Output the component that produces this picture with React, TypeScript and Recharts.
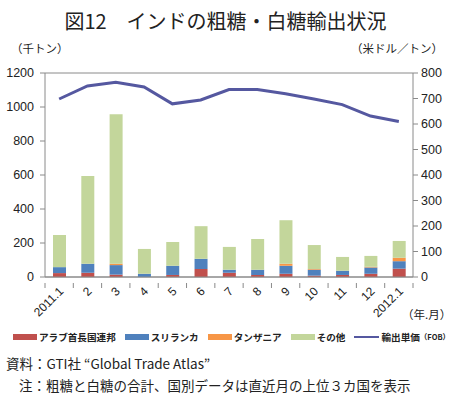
import { ComposedChart, Bar, Line, XAxis, YAxis, CartesianGrid } from 'recharts'

const months = ['2011.1', '2', '3', '4', '5', '6', '7', '8', '9', '10', '11', '12', '2012.1']
const uae = [23, 25, 14, 0, 12, 47, 25, 12, 19, 8, 12, 19, 49]
const sriLanka = [35, 53, 56, 19, 54, 60, 18, 31, 47, 35, 25, 37, 44]
const tanzania = [0, 0, 8, 0, 0, 0, 0, 0, 12, 4, 0, 4, 20]
const others = [189, 516, 879, 146, 140, 192, 134, 180, 256, 141, 81, 64, 99]
const unitPrice = [698, 749, 764, 745, 679, 694, 735, 735, 719, 698, 676, 631, 610]

const leftTicks = [0, 200, 400, 600, 800, 1000, 1200]
const rightTicks = [0, 100, 200, 300, 400, 500, 600, 700, 800]

const series = [
  { key: 'uae', name: 'アラブ首長国連邦', color: '#c0504d' },
  { key: 'sriLanka', name: 'スリランカ', color: '#4f81bd' },
  { key: 'tanzania', name: 'タンザニア', color: '#f79646' },
  { key: 'others', name: 'その他', color: '#c3d69b' },
]
const lineColor = '#5558a0'
const axisColor = '#8a8a8a'

const data = months.map((m, i) => ({
  month: m,
  uae: uae[i],
  sriLanka: sriLanka[i],
  tanzania: tanzania[i],
  others: others[i],
  price: unitPrice[i],
}))

const jp = '"Noto Sans CJK JP", sans-serif'
const num = '"Liberation Sans", Arial, sans-serif'

function MonthTick(props: any) {
  const { x, y, payload, width, index } = props
  const step = width / months.length
  return (
    <g>
      <line x1={x - step / 2} y1={y - 2} x2={x - step / 2} y2={y + 3} stroke={axisColor} />
      {index === months.length - 1 && (
        <line x1={x + step / 2} y1={y - 2} x2={x + step / 2} y2={y + 3} stroke={axisColor} />
      )}
      <text
        x={x + 5}
        y={y + 7}
        transform={`rotate(-45 ${x + 5} ${y + 7})`}
        textAnchor="end"
        fontSize={12}
        fontFamily={num}
        fill="#222"
      >
        {payload.value}
      </text>
    </g>
  )
}

export default function App() {
  return (
    <div style={{ position: 'absolute', left: 0, top: 0, width: 451, height: 398, background: '#fff', fontFamily: jp, color: '#222' }}>
      <div style={{ position: 'absolute', top: 6, left: 0, width: 451, textAlign: 'center', fontSize: 20, fontWeight: 400 }}>
        図12　インドの粗糖・白糖輸出状況
      </div>
      <div style={{ position: 'absolute', top: 40, left: 11, fontSize: 11.5 }}>（千トン）</div>
      <div style={{ position: 'absolute', top: 40, right: 8, fontSize: 11.5 }}>（米ドル／トン）</div>

      <ComposedChart
        width={451}
        height={330}
        data={data}
        margin={{ top: 73, right: 0, bottom: 3, left: 5 }}
        barSize={13}
        style={{ position: 'absolute', left: 0, top: 0 }}
      >
        <CartesianGrid vertical={false} stroke={axisColor} />
        <XAxis
          dataKey="month"
          stroke={axisColor}
          tickLine={false}
          interval={0}
          height={50}
          tick={<MonthTick />}
        />
        <YAxis
          yAxisId="left"
          domain={[0, 1200]}
          ticks={leftTicks}
          width={40}
          stroke={axisColor}
          tickSize={5}
          tickMargin={6}
          tick={{ fontSize: 12.5, fontFamily: num, fill: '#222' }}
        />
        <YAxis
          yAxisId="right"
          orientation="right"
          domain={[0, 800]}
          ticks={rightTicks}
          width={38}
          stroke={axisColor}
          tickSize={5}
          tickMargin={3}
          tick={{ fontSize: 12.5, fontFamily: num, fill: '#222' }}
        />
        {series.map((s) => (
          <Bar key={s.key} yAxisId="left" dataKey={s.key} stackId="a" fill={s.color} isAnimationActive={false} />
        ))}
        <Line
          yAxisId="right"
          dataKey="price"
          stroke={lineColor}
          strokeWidth={3}
          dot={false}
          type="linear"
          isAnimationActive={false}
        />
      </ComposedChart>

      <div style={{ position: 'absolute', top: 306, left: 402, fontSize: 11.5 }}>（年.月）</div>

      <div style={{ position: 'absolute', top: 330, left: 13, display: 'flex', alignItems: 'center', fontSize: 9.6, fontWeight: 700, whiteSpace: 'nowrap', lineHeight: '14px' }}>
        {series.map((s) => (
          <span key={s.key} style={{ display: 'flex', alignItems: 'center', marginRight: 9 }}>
            <span style={{ display: 'inline-block', width: 24, height: 6, background: s.color, marginRight: 2 }} />
            {s.name}
          </span>
        ))}
        <span style={{ display: 'flex', alignItems: 'center' }}>
          <span style={{ display: 'inline-block', width: 25, height: 2.5, background: lineColor, marginRight: 2 }} />
          輸出単価<span style={{ fontSize: 7.5 }}>（FOB）</span>
        </span>
      </div>

      <div style={{ position: 'absolute', top: 353, left: 6, fontSize: 13.5 }}>
        資料：GTI社 “Global Trade Atlas”
      </div>
      <div style={{ position: 'absolute', top: 375, left: 19, fontSize: 13.5 }}>
        注：粗糖と白糖の合計、国別データは直近月の上位３カ国を表示
      </div>
    </div>
  )
}
